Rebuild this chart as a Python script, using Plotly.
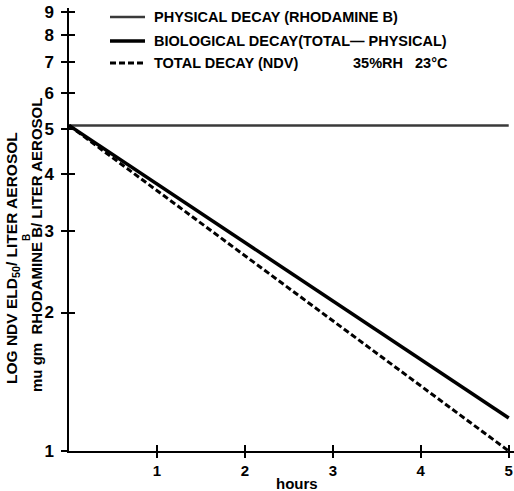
import plotly.graph_objects as go
import numpy as np

# Data
hours = [0, 5]
physical = [5.1, 5.1]
biological = [5.1, 1.18]
total = [5.1, 1.0]
x_ticks = [1, 2, 3, 4, 5]
y_ticks = [1, 2, 3, 4, 5, 6, 7, 8, 9]
legend_labels = ["PHYSICAL DECAY (RHODAMINE B)",
                 "BIOLOGICAL DECAY(TOTAL\u2014 PHYSICAL)",
                 "TOTAL DECAY (NDV)"]

FONT = "Liberation Sans, Arial, sans-serif"
yr = [0, np.log10(9.18)]
xr = [0, 5.06]
W, H = 514, 491
L, R, T, B = 69, 0, 8, 40
PW, PH = W - L - R, H - T - B


def px(x):
    return (x - L) / PW


def py(y):
    return 1 - (y - T) / PH


fig = go.Figure()
fig.add_trace(go.Scatter(x=hours, y=physical, mode="lines",
                         line=dict(color="#3a3a3a", width=2.4), showlegend=False))
fig.add_trace(go.Scatter(x=hours, y=biological, mode="lines",
                         line=dict(color="black", width=3.5), showlegend=False))
fig.add_trace(go.Scatter(x=hours, y=total, mode="lines",
                         line=dict(color="black", width=3, dash="6px,3px"), showlegend=False))

fig.update_layout(
    width=W, height=H,
    margin=dict(l=L, r=R, t=T, b=B),
    paper_bgcolor="white", plot_bgcolor="white",
    font=dict(family=FONT, color="black"),
    xaxis=dict(range=xr, showgrid=False, zeroline=False, showline=True,
               linecolor="black", linewidth=1.5, ticks="outside", ticklen=5,
               tickwidth=1.5, tickcolor="black", tickvals=x_ticks,
               ticktext=["<b>%d</b>" % v for v in x_ticks],
               ticklabelstandoff=0,
               tickfont=dict(size=15, family=FONT)),
    xaxis2=dict(range=xr, overlaying="x", showgrid=False, zeroline=False,
                showline=False, ticks="inside", ticklen=6, tickwidth=1.5,
                tickcolor="black", tickvals=x_ticks, showticklabels=False),
    yaxis=dict(type="log", range=yr, showgrid=False, zeroline=False, showline=True,
               linecolor="black", linewidth=1.5, ticks="outside", ticklen=6,
               tickwidth=1.5, tickcolor="black", tickvals=y_ticks,
               ticktext=["<b>%d</b>" % v for v in y_ticks],
               ticklabelstandoff=4,
               tickfont=dict(size=17, family=FONT)),
    yaxis2=dict(type="log", range=yr, overlaying="y", showgrid=False, zeroline=False,
                showline=False, ticks="inside", ticklen=6, tickwidth=1.5,
                tickcolor="black", tickvals=y_ticks, showticklabels=False),
)
# invisible trace to activate overlay axes
fig.add_trace(go.Scatter(x=[1], y=[2], xaxis="x2", yaxis="y2", mode="markers",
                         marker=dict(opacity=0), showlegend=False, hoverinfo="skip"))

# Legend (custom)
rows_y = [17, 41, 63]
styles = [dict(color="#3a3a3a", width=2.4), dict(color="black", width=3.5),
          dict(color="black", width=3, dash="6px,3px")]
for yy, st, lab in zip(rows_y, styles, legend_labels):
    fig.add_shape(type="line", xref="paper", yref="paper",
                  x0=px(110), x1=px(145), y0=py(yy), y1=py(yy), line=st)
    fig.add_annotation(xref="paper", yref="paper", x=px(152), y=py(yy),
                       xanchor="left", yanchor="middle",
                       text="<b>%s</b>" % lab, showarrow=False,
                       font=dict(size=14.5, family=FONT))
fig.add_annotation(xref="paper", yref="paper", x=px(351), y=py(63),
                   xanchor="left", yanchor="middle",
                   text="<b>35%RH   23\u00b0C</b>", showarrow=False,
                   font=dict(size=14.5, family=FONT))

# Axis titles
fig.add_annotation(xref="paper", yref="paper", x=px(297), y=py(483),
                   xanchor="center", yanchor="middle", text="<b>hours</b>",
                   showarrow=False, font=dict(size=15, family=FONT))
fig.add_annotation(xref="paper", yref="paper", x=px(12), y=py(258),
                   xanchor="center", yanchor="middle", textangle=-90,
                   text="<b>LOG NDV ELD<sub>50</sub>/ LITER AEROSOL</b>",
                   showarrow=False, font=dict(size=15.5, family=FONT))
fig.add_annotation(xref="paper", yref="paper", x=px(26), y=py(238),
                   xanchor="center", yanchor="middle", textangle=-90,
                   text="<b>B</b>", showarrow=False, font=dict(size=10, family=FONT))
fig.add_annotation(xref="paper", yref="paper", x=px(36), y=py(245),
                   xanchor="center", yanchor="middle", textangle=-90,
                   text="<b>mu gm  RHODAMINE B/ LITER AEROSOL</b>",
                   showarrow=False, font=dict(size=15, family=FONT))

fig.write_html("out.html")
